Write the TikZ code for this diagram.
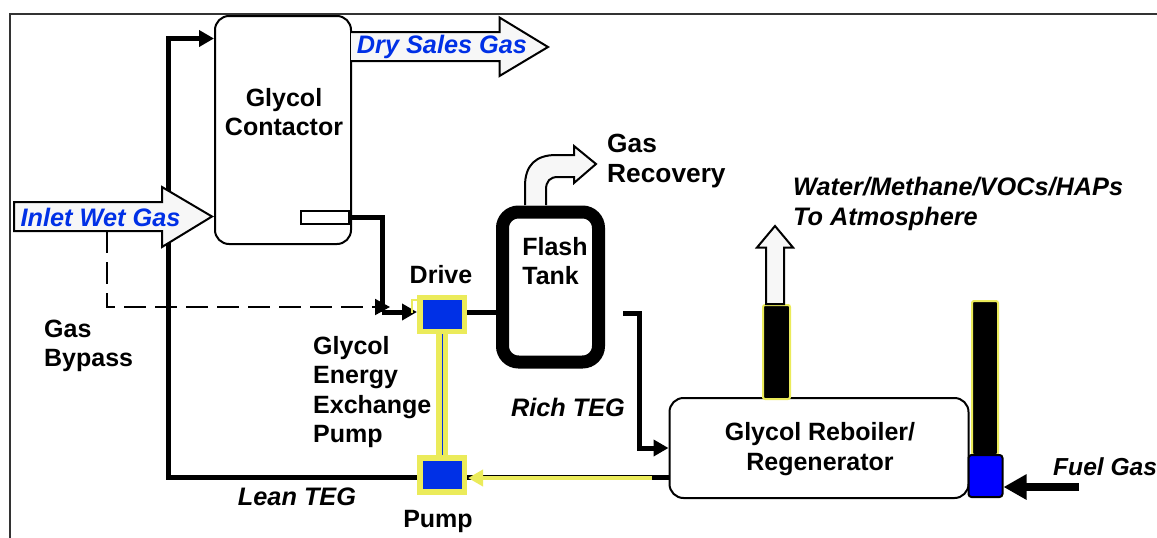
\documentclass[tikz,border=0pt]{standalone}
\usepackage{fontspec}
\setmainfont{Liberation Sans}
\usetikzlibrary{arrows.meta}
\definecolor{pumpblue}{RGB}{0,48,230}
\definecolor{pumpyellow}{RGB}{235,235,90}
\definecolor{pale}{RGB}{247,247,247}
\tikzset{
	vessel/.style={draw=black, fill=white, line width=2pt, rounded corners=14pt, inner sep=0pt, align=center},
	pumpbox/.style={draw=pumpyellow, fill=pumpblue, line width=5.5pt, minimum width=44.5pt, minimum height=34pt, inner sep=0pt},
	stack/.style={draw=pumpyellow, fill=black, line width=2pt, rounded corners=2pt, inner sep=0pt},
	label/.style={font=\bfseries\fontsize{25}{29.5}\selectfont, align=left, inner sep=0pt},
	flow/.style={font=\bfseries\itshape\fontsize{25.3}{29.5}\selectfont, align=left, inner sep=0pt},
	gasflow/.style={flow, text=pumpblue},
	bigarrow/.style={draw=black, fill=pale, line width=2pt, line join=miter},
	pipe/.style={line width=5pt, draw=black},
	pipehead/.style={-{Triangle[length=15pt,width=16pt]}}
}
\begin{document}
\begin{tikzpicture}[x=1pt, y=-1pt]
	\useasboundingbox (0,0) rectangle (1157,538);
	%%%%% frame %%%%%
	\draw[line width=2pt, color=black!80] (10,538) -- (10,14) -- (1157,14);

	%%%%% pipes under the vessels %%%%%
	\coordinate (bypassTop) at (107,231);
	\coordinate (bypassCorner) at (107,307);
	\coordinate (bypassEnd) at (380,307);
	\coordinate (bypassTip) at (390,307);
	\draw[line width=2pt, dash pattern=on 22pt off 9pt] (bypassTop) -- (bypassCorner) -- (bypassEnd);
	\draw[line width=2pt, -{Triangle[length=15pt,width=16pt]}] (bypassEnd) -- (bypassTip);

	%%%%% equipment %%%%%
	\node[vessel, minimum width=136pt, minimum height=228pt] (contactor) at (283,130) {};
	\node[label, align=center] (contactorText) at (284,112) {Glycol\\Contactor};
	\node[draw=black, fill=white, line width=2pt, minimum width=48pt, minimum height=13pt, inner sep=0pt] (draw) at (325,217.5) {};

	\node[draw=black, fill=white, line width=13pt, rounded corners=16pt, minimum width=96pt, minimum height=150pt, inner sep=0pt] (tank) at (550.5,287) {};
	\node[label, align=left] (tankText) at (555,261) {Flash\\Tank};

	\node[pumpbox] (drive) at (442,314.5) {};
	\node[pumpbox] (pump) at (442,475) {};

	\node[vessel, minimum width=299pt, minimum height=100pt] (reboiler) at (819,448) {};
	\node[label, align=center] (reboilerText) at (820,449) {Glycol Reboiler/\\Regenerator};

	\node[stack, minimum width=27pt, minimum height=94pt] (stillColumn) at (776.5,352) {};
	\node[stack, minimum width=26pt, minimum height=154pt] (fireStack) at (985,378) {};
	\node[draw=black, fill=blue, line width=2pt, rounded corners=3pt, minimum width=34pt, minimum height=42pt, inner sep=0pt] (firebox) at (985.5,476) {};

	%%%%% pipes %%%%%
	\coordinate (leanCorner) at (168,477);
	\coordinate (leanTop) at (168,38.5);
	\draw[pipe, pipehead] (pump.west |- leanCorner) -- (leanCorner) -- (leanTop) -- (contactor.west |- leanTop);

	\coordinate (richCorner) at (382,217.5);
	\coordinate (richDown) at (382,312);
	\draw[pipe] (draw.east) -- (richCorner) -- (richDown);
	\draw[pipe, pipehead] (richDown) -- (drive.west |- richDown);
	\draw[pipe] (drive.east |- richDown) -- (tank.west |- richDown);

	\coordinate (richOut) at (623,313);
	\coordinate (richDrop) at (639,313);
	\coordinate (richIn) at (639,448);
	\draw[pipe, pipehead] (richOut) -- (richDrop) -- (richIn) -- (reboiler.west |- richIn);

	\coordinate (leanOut) at (652,477);
	\coordinate (leanTip) at (468,478);
	\draw[pipe] (reboiler.west |- leanOut) -- (pump.east |- leanOut);
	\draw[line width=4pt, draw=pumpyellow, -{Triangle[length=15pt,width=16pt]}] (leanOut |- leanTip) -- (leanTip);

	\draw[line width=11.5pt, draw=pumpyellow] (drive.south) -- (pump.north);
	\draw[line width=1pt, draw=pumpblue] (drive.south) -- (pump.north);
	\draw[line width=2pt, draw=pumpyellow] (417,300) -- (412,300) -- (412,313);

	%%%%% block arrows %%%%%
	\draw[bigarrow] (351,32) -- (499.5,32) -- (499.5,17.5) -- (548,47) -- (499.5,76) -- (499.5,61) -- (351,61);
	\draw[bigarrow] (14,202) -- (162,202) -- (162,187) -- (212,216.5) -- (162,247) -- (162,231) -- (14,231) -- cycle;
	\draw[bigarrow] (525,205) -- (525,186) .. controls (525,165) and (536,155) .. (556,155) -- (574,155) -- (574,146) -- (596,164) -- (574,183) -- (574,177) -- (558,177) .. controls (550,177) and (546,181) .. (546,190) -- (546,205);
	\draw[bigarrow] (766,304) -- (766,247.5) -- (757,247.5) -- (775,226) -- (793,247.5) -- (784,247.5) -- (784,304) -- cycle;

	\coordinate (fuelStart) at (1079,487);
	\draw[line width=8pt, -{Triangle[length=23pt,width=24pt]}] (fuelStart) -- (firebox.east |- fuelStart);

	%%%%% labels %%%%%
	\node[gasflow] (dryGas) at (442,47) {Dry Sales Gas};
	\node[gasflow] (wetGas) at (100.5,217) {Inlet Wet Gas};
	\node[flow, anchor=west, font=\bfseries\itshape\fontsize{24.6}{29.5}\selectfont] (fuelGas) at (1053,467) {Fuel Gas};
	\node[flow] (richTeg) at (568,407) {Rich TEG};
	\node[flow] (leanTeg) at (297,497) {Lean TEG};
	\node[flow, anchor=west] (atmosphere) at (793,204) {Water/Methane/VOCs/HAPs\\To Atmosphere};
	\node[label, anchor=west, font=\bfseries\fontsize{26.3}{29.5}\selectfont] (recovery) at (607,161) {Gas\\Recovery};
	\node[label, anchor=west] (bypass) at (44,346) {Gas\\Bypass};
	\node[label, anchor=west] (energyPump) at (313,392) {Glycol\\Energy\\Exchange\\Pump};
	\node[label] (driveText) at (441,275) {Drive};
	\node[label] (pumpText) at (438,521) {Pump};
\end{tikzpicture}
\end{document}
